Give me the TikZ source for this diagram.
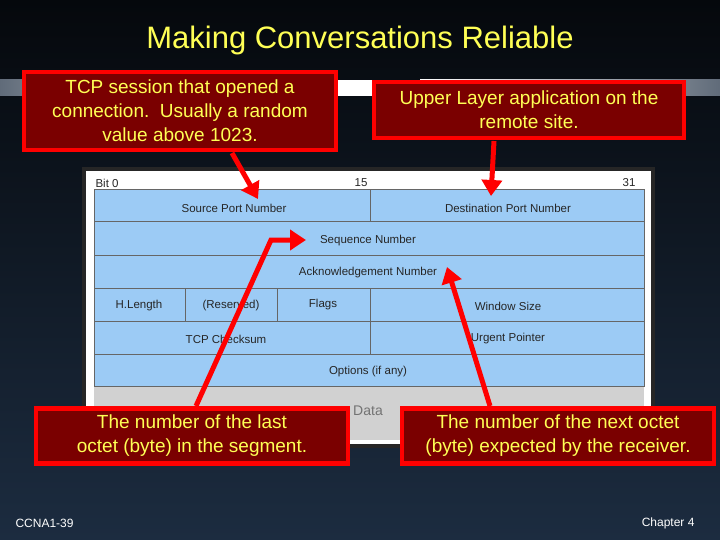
\documentclass[tikz,border=0pt]{standalone}
\usepackage{fontspec}
\setmainfont{Liberation Sans}
\usetikzlibrary{arrows.meta}
\definecolor{ttl}{HTML}{FFFF55}
\definecolor{boxfill}{HTML}{7A0000}
\definecolor{cell}{HTML}{9CCBF5}
\definecolor{bgtop}{HTML}{05080C}
\definecolor{bgbot}{HTML}{1C2C40}
\tikzset{
  note/.style={draw=red, line width=4.5pt, fill=boxfill, text=ttl, align=center, font=\fontsize{19}{24}\selectfont, inner sep=0pt},
  fld/.style={draw=black!60, line width=1pt, fill=cell},
  lbl/.style={font=\fontsize{11.5}{13}\selectfont, text=black!85},
  arr/.style={draw=red, line width=5pt, -{Triangle[length=16pt,width=20pt]}},
}
\begin{document}
\begin{tikzpicture}[x=1pt,y=-1pt]
\useasboundingbox (0,0) rectangle (720,540);
\shade[top color=bgtop, bottom color=bgbot] (0,0) rectangle (720,540);
\shade[left color=bgbot!70!white, right color=white] (0,80) rectangle (300,96);
\fill[white] (300,80) rectangle (420,96);
\shade[left color=white, right color=bgbot!70!white] (420,80) rectangle (720,96);
\node[text=ttl, font=\fontsize{31}{36}\selectfont] (title) at (360,40) {Making Conversations Reliable};
% diagram
\fill[black!85] (82,167) rectangle (655,448);
\fill[white] (86,171) rectangle (651,444);
\fill[black!18] (94,386) rectangle (644,440);
\draw[fld] (94,190) rectangle (370,222);
\draw[fld] (370,190) rectangle (644,222);
\draw[fld] (94,222) rectangle (644,255);
\draw[fld] (94,255) rectangle (644,288);
\draw[fld] (94,288) rectangle (185,321);
\draw[fld] (185,288) rectangle (277,321);
\draw[fld] (277,288) rectangle (370,321);
\draw[fld] (370,288) rectangle (644,321);
\draw[fld] (94,321) rectangle (370,354);
\draw[fld] (370,321) rectangle (644,354);
\draw[fld] (94,354) rectangle (644,386);
\node[lbl, anchor=west] (b0) at (92,183) {Bit 0};
\node[lbl] (b15) at (361,183) {15};
\node[lbl] (b31) at (629,183) {31};
\node[lbl] (src) at (234,208) {Source Port Number};
\node[lbl] (dst) at (508,208) {Destination Port Number};
\node[lbl] (seq) at (368,241) {Sequence Number};
\node[lbl] (ack) at (368,273) {Acknowledgement Number};
\node[lbl] (hl) at (139,306) {H.Length};
\node[lbl] (res) at (231,306) {(Reserved)};
\node[lbl] (flg) at (323,305) {Flags};
\node[lbl] (win) at (508,306) {Window Size};
\node[lbl] (chk) at (226,339) {TCP Checksum};
\node[lbl] (urg) at (508,339) {Urgent Pointer};
\node[lbl] (opt) at (368,372) {Options (if any)};
\node[font=\fontsize{14}{16}\selectfont, text=black!55] (data) at (368,411) {Data};
% notes
\node[note, minimum width=312pt, minimum height=78pt] (n1) at (180,111) {TCP session that opened a\\connection.\ \ Usually a random\\value above 1023.};
\node[note, minimum width=310pt, minimum height=56pt] (n2) at (529,110) {Upper Layer application on the\\remote site.};
\node[note, minimum width=312pt, minimum height=55pt] (n3) at (192,436) {The number of the last\\octet (byte) in the segment.};
\node[note, minimum width=312pt, minimum height=55pt] (n4) at (558,436) {The number of the next octet\\(byte) expected by the receiver.};
\coordinate (t1) at (258,199);
\coordinate (t2) at (491,196);
\coordinate (k3) at (271,240);
\coordinate (t3) at (306,240);
\coordinate (t4) at (447,267);
\draw[arr] (232,153) -- (t1);
\draw[arr] (494,141) -- (t2);
\draw[arr] (196,406) -- (k3) -- (t3);
\draw[arr] (490,406) -- (t4);
\node[text=white, font=\fontsize{12}{14}\selectfont, anchor=west] (f1) at (12,523) {CCNA1-39};
\node[text=white, font=\fontsize{12}{14}\selectfont, anchor=east] (f2) at (698,523) {Chapter 4};
\end{tikzpicture}
\end{document}
